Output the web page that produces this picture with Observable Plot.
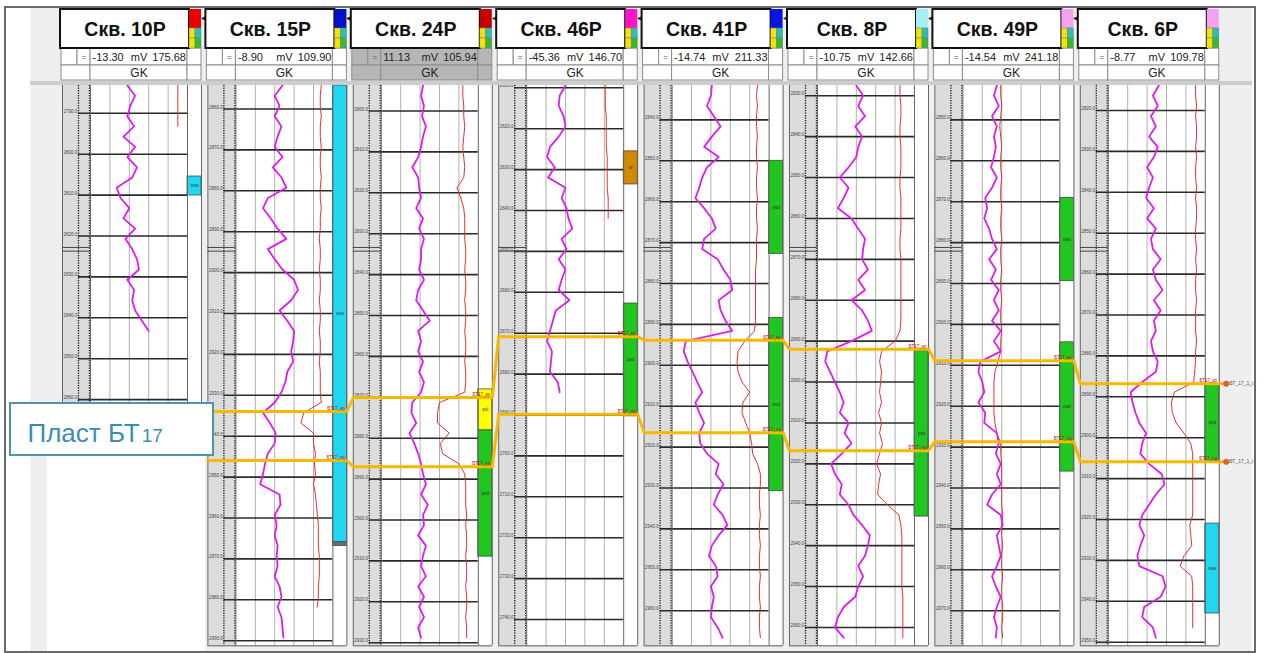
<!DOCTYPE html>
<html><head><meta charset="utf-8">
<script src="https://cdn.jsdelivr.net/npm/d3@7"></script>
<script src="https://cdn.jsdelivr.net/npm/@observablehq/plot@0.6"></script>
<style>
html,body{margin:0;padding:0;background:#fff;}
#chart{width:1264px;height:653px;overflow:hidden;}
</style></head><body><div id="chart"></div>
<script>
// ================= DATA =================
const wells = ["Скв. 10Р","Скв. 15Р","Скв. 24Р","Скв. 46Р","Скв. 41Р","Скв. 8Р","Скв. 49Р","Скв. 6Р"];
const gkMin = ["-13.30","-8.90","11.13","-45.36","-14.74","-10.75","-14.54","-8.77"];
const gkMax = ["175.68","109.90","105.94","146.70","211.33","142.66","241.18","109.78"];
const gkUnit = "mV";
const curveName = "GK";
const tagColors = ["#e80000","#0010c8","#c40000","#ff14c8","#0a14e6","#a6eef0","#f2a2f0","#f2a2f0"];
const tagIcon = ["#f4e400","#26c2b6","#f4e400","#36b836"];
// display depth (m below panel top) of first depth mark, and its label
const firstGrid = [6.8,5.75,6.24,0.56,8.41,2.51,8.41,6.11];
const firstGridMD = [2790,2860,2800,2610,2840,2830,2850,2820];
const logBottom = [77.5,137,137,137,137,137,137,137];
const sampleStep = 2.5; // m between curve samples
// GK curve, % of track width, one value every 2.5 m from panel top
const gk_10P = [38,46,41,38,45,34,46,38,48,43,27,31,40,34,46,36,43,48,50,38,45,43,46,53,60];
const gk_15P = [48,40,45,40,47,43,40,48,38,47,52,33,28,36,43,52,33,40,48,60,64,57,45,53,60,59,57,59,53,51,47,40,28,35,41,40,33,30,28,25,45,46,40,42,40,43,42,43,40,45,47,43,47,48,49];
const gk_24P = [43,41,44,42,46,43,41,38,32,38,39,41,36,43,39,44,41,41,39,44,38,36,43,50,38,41,38,43,39,44,41,32,31,36,29,34,38,41,43,46,41,48,43,44,38,46,43,41,46,38,44,39,44,38,41];
const gk_46P = [40,34,33,38,40,33,24,21,29,22,40,36,41,43,47,36,41,33,40,36,33,44,30,27,24,21,26,25,24,32,34];
const gk_41P = [41,40,36,43,50,41,33,48,36,31,28,24,33,41,45,33,31,47,53,60,62,48,50,55,62,14,12,16,21,26,31,24,28,33,28,29,36,48,45,53,47,43,52,57,48,41,38,45,47,40,43,41,40,47,52];
const gk_8P = [40,47,42,49,39,46,42,40,32,23,32,27,21,35,42,49,47,46,52,42,49,35,46,52,56,35,10,8,13,18,23,27,23,32,28,35,25,14,18,25,23,32,37,46,54,52,49,42,47,42,39,27,21,18,27];
const gk_49P = [35,32,37,30,35,32,34,32,29,35,30,23,25,22,27,30,35,27,34,29,37,32,37,30,39,32,39,18,16,20,22,16,23,22,35,37,34,39,35,39,30,25,39,41,35,37,39,35,30,34,39,35,32,35,34];
const gk_6P = [52,46,51,44,49,42,51,47,40,46,42,39,47,40,49,44,46,54,46,49,56,47,54,47,49,44,46,51,49,35,23,25,28,32,39,35,33,42,55,58,49,42,35,32,37,33,30,32,56,59,54,37,35,46,49];
// second (red) curve, % of track width, same sampling
const ps_10P = [90,90,90,90,90];
const ps_15P = [88,87,87,88,87,87,88,87,87,88,87,87,88,87,87,86,87,87,86,87,87,86,87,87,86,87,87,86,87,87,87,88,70,67,80,80,82,81,82,80,82,83,84,85,85,85,86,86,86,85,85,84];
const ps_24P = [84,84,85,85,86,85,84,85,86,85,78,82,85,86,86,86,87,87,86,87,87,86,87,87,86,87,87,86,87,87,86,60,58,58,70,61,63,80,86,87,87,87,88,87,88,88,87,88,88,87,88,88,87,88,88];
const ps_46P = [81,81,81,82,82,82,82,83,83,83,83,84,84,84];
const ps_41P = [88,87,88,87,87,88,87,87,88,87,87,88,87,87,88,87,87,87,86,86,86,86,86,86,85,75,68,67,68,72,80,73,72,76,80,82,83,88,91,91,90,90,91,90,90,91,90,90,91,90,90,91,90,90,91];
const ps_8P = [85,85,86,86,85,85,86,86,86,85,85,86,86,86,86,85,85,86,86,86,86,86,86,86,85,80,66,64,66,65,64,66,63,66,64,67,64,61,65,63,62,72,84,86,87,87,87,87,87,87,88,88,88,88,88];
const ps_49P = [39,39,40,39,38,39,40,39,39,40,39,39,40,39,39,40,39,39,40,39,39,40,39,39,40,39,39,36,33,32,32,32,32,33,35,39,39,40,40,40,40,40,41,40,40,41,40,40,41,40,40,41,41,40,41];
const ps_6P = [90,90,91,90,91,91,90,91,90,90,91,90,91,91,90,90,91,90,91,90,90,91,90,90,90,91,90,90,89,88,68,65,66,70,78,85,87,87,87,87,87,87,87,84,85,86,78,74,86,87,87,87,87,87];
// lithology intervals (display depth, m)
const lithWell = [0,1,1,2,2,3,3,4,4,5,6,6,7,7];
const lithTop  = [22.25,0,111.7,74.3,84.35,16.1,53.3,18.4,56.8,64.8,27.5,62.8,72.9,107.1];
const lithBase = [26.9,111.7,112.6,84.35,115.2,24.2,80.9,41.2,99.2,105.4,47.85,94.4,91.9,129.1];
const lithCode = ["ssw","ssw","","psl","psd","al","psd","psd","psd","psd","psd","psd","psd","ssw"];
const lithColors = {ssw:"#1fd8f0", psl:"#ffff00", psd:"#1ec81e", al:"#d08a00", "":"#6e6e6e"};
// Пласт БТ17 correlation (display depth, m)
const bt17Top  = [null,79.7,76.3,61.4,62.3,64.5,67.3,72.9];
const bt17Base = [null,91.7,93.2,80.4,84.9,89.3,87.1,92.0];
const layerName = "Пласт БТ";
const layerIndex = "17";
const markerTop = "БТ17_кр", markerBase = "БТ17_пд", endLabel = "БТ_17_1_t";

// ================= LAYOUT =================
const W = 1264, H = 653;
const SLOT = 145.4, X0 = 62, PXM = 4.09, Y0 = 85;
const ux = px => (px - X0) / SLOT;          // pixel column -> slot units (layout)
const off = (i, o) => i + o / SLOT;         // offset o (px) inside well slot i
const py = px => (px - Y0) / PXM;           // pixel row -> display depth (layout)
const GK0 = 28, GKW = 97;
const FONT = "'Liberation Sans',Arial,sans-serif";
const idx = d3.range(wells.length);

const gkSeries = [gk_10P,gk_15P,gk_24P,gk_46P,gk_41P,gk_8P,gk_49P,gk_6P];
const psSeries = [ps_10P,ps_15P,ps_24P,ps_46P,ps_41P,ps_8P,ps_49P,ps_6P];
const pts = series => series.flatMap((arr, i) => arr.map((v, k) => ({well: wells[i], x: off(i, GK0 + v / 100 * GKW), y: k * sampleStep})));
const gkPts = pts(gkSeries), psPts = pts(psSeries);

const gridData = [];
idx.forEach(i => { for (let d = firstGrid[i], n = 0; d < logBottom[i]; d += 10, n++) gridData.push({i, d, md: firstGridMD[i] + 10 * n}); });
const vgrid = idx.flatMap(i => [1,2,3,4].map(k => ({i, o: GK0 + GKW / 5 * k})));
const borders = idx.flatMap(i => [0, 28, 125, 139].map(o => ({i, o})));
const dotted = idx.flatMap(i => [16, 27].map(o => ({i, o})));
const lith = lithWell.map((i, j) => ({i, t: lithTop[j], b: lithBase[j], code: lithCode[j]}));

function horizon(arr, name) {
  const out = [];
  arr.forEach((d, i) => { if (d == null) return;
    out.push({x: off(i, 0), y: d, name});
    out.push({x: off(i, i === arr.length - 1 ? 146 : 139), y: d, name}); });
  return out;
}
const corr = [...horizon(bt17Top, "top"), ...horizon(bt17Base, "base")];
const corrMarks = [...bt17Top.map((d, i) => ({i, d, t: markerTop})), ...bt17Base.map((d, i) => ({i, d, t: markerBase}))].filter(o => o.d != null);
const last = wells.length - 1;
const ends = [bt17Top[last], bt17Base[last]];

const cells = idx.flatMap(i => [
  {i, o1: -1, o2: 15, y1: 48, y2: 65}, {i, o1: 15, o2: 28, y1: 48, y2: 65}, {i, o1: 28, o2: 125, y1: 48, y2: 65}, {i, o1: 125, o2: 139, y1: 48, y2: 65},
  {i, o1: -1, o2: 28, y1: 65, y2: 80}, {i, o1: 28, o2: 125, y1: 65, y2: 80}, {i, o1: 125, o2: 139, y1: 65, y2: 80}]);
const icons = idx.flatMap(i => [0,1,2,3].map(q => ({i, q})));

const ctx = document.createElement("canvas").getContext("2d");
ctx.font = `26px ${FONT}`;
const wMain = ctx.measureText(layerName).width;

const marks = [
  // backgrounds
  Plot.rect([0], {x1: ux(30), x2: ux(1252), y1: py(8), y2: py(651), fill: "#efefef"}),
  Plot.rect([0], {x1: ux(47), x2: ux(205), y1: py(403), y2: py(651), fill: "#ffffff"}),
  Plot.rect(idx, {x1: i => off(i, 0), x2: i => off(i, 139), y1: 0, y2: i => logBottom[i], fill: "#ffffff"}),
  Plot.rect(idx, {x1: i => off(i, 0), x2: i => off(i, 27.5), y1: 0, y2: i => logBottom[i], fill: "#dcdcdc"}),
  // lithology
  Plot.rect(lith, {x1: d => off(d.i, 125), x2: d => off(d.i, 139), y1: "t", y2: "b", fill: d => lithColors[d.code], stroke: "#3a3a3a", strokeWidth: 0.7}),
  Plot.text(lith.filter(d => d.code), {x: d => off(d.i, 132), y: d => (d.t + d.b) / 2, text: "code", fontSize: 4.5, fill: "#333"}),
  // track grid
  Plot.ruleX(vgrid, {x: d => off(d.i, d.o), y1: 0, y2: d => logBottom[d.i], stroke: "#b0b0b0", strokeWidth: 1}),
  Plot.ruleY(gridData, {y: "d", x1: d => off(d.i, 16), x2: d => off(d.i, 125), stroke: "#2a2a2a", strokeWidth: 1.6}),
  Plot.ruleX(dotted, {x: d => off(d.i, d.o), y1: 0, y2: d => logBottom[d.i], stroke: "#111", strokeWidth: 1.3, strokeDasharray: "1.2,1.3"}),
  Plot.ruleX(borders, {x: d => off(d.i, d.o), y1: 0, y2: d => logBottom[d.i], stroke: "#666", strokeWidth: 1}),
  Plot.ruleY(idx.flatMap(i => [39.6, 40.5].map(d => ({i, d}))), {y: "d", x1: d => off(d.i, 0), x2: d => off(d.i, 27.5), stroke: "#444", strokeWidth: 1}),
  Plot.ruleY(idx, {y: i => logBottom[i], x1: i => off(i, 0), x2: i => off(i, 139), stroke: "#555", strokeWidth: 1}),
  Plot.text(gridData, {x: d => off(d.i, 1), y: "d", text: d => `${d.md}.0`, textAnchor: "start", lineAnchor: "bottom", fontSize: 4.5, fill: "#444", dy: -0.5}),
  // curves
  Plot.line(psPts, {x: "x", y: "y", z: "well", stroke: "#e53030", strokeWidth: 1}),
  Plot.line(gkPts, {x: "x", y: "y", z: "well", stroke: "#dc1cf0", strokeWidth: 1.8}),
  // correlation
  Plot.line(corr, {x: "x", y: "y", z: "name", stroke: "#f6b800", strokeWidth: 3}),
  Plot.text(corrMarks, {x: d => off(d.i, 128), y: "d", text: "t", fontSize: 4.5, fill: "#cc0000", lineAnchor: "bottom", dy: -1.5}),
  Plot.dot(ends, {x: off(last, 146), y: d => d, r: 2.6, fill: "#e8602c", stroke: "#c04010", strokeWidth: 0.6}),
  Plot.text(ends, {x: off(last, 149), y: d => d, text: () => endLabel, fontSize: 5, fill: "#555", textAnchor: "start"}),
  // header
  Plot.ruleY([py(82.5)], {x1: ux(30), x2: ux(1252), stroke: "#cdcdcd", strokeWidth: 4}),
  Plot.rect(cells, {x1: d => off(d.i, d.o1), x2: d => off(d.i, d.o2), y1: d => py(d.y1), y2: d => py(d.y2), fill: d => d.i === 2 ? "#b6b6b6" : "#ffffff", stroke: "#8c8c8c", strokeWidth: 1}),
  Plot.text(idx, {x: i => off(i, 21.5), y: py(56.5), text: () => "=", fontSize: 8, fill: "#555"}),
  Plot.text(idx, {x: i => off(i, 30), y: py(56.5), text: i => gkMin[i], textAnchor: "start", fontSize: 11, fill: "#222"}),
  Plot.text(idx, {x: i => off(i, 76.5), y: py(56.5), text: () => gkUnit, fontSize: 11, fill: "#222"}),
  Plot.text(idx, {x: i => off(i, 123.5), y: py(56.5), text: i => gkMax[i], textAnchor: "end", fontSize: 11, fill: "#222"}),
  Plot.text(idx, {x: i => off(i, 76.5), y: py(73), text: () => curveName, fontSize: 12, fill: "#222"}),
  Plot.rect(idx, {x1: i => off(i, -2), x2: i => off(i, 127), y1: py(9), y2: py(48), fill: "#ffffff", stroke: "#111", strokeWidth: 2}),
  Plot.rect(idx, {x1: i => off(i, 127), x2: i => off(i, 139), y1: py(9), y2: py(28), fill: i => tagColors[i]}),
  Plot.rect(icons, {x1: d => off(d.i, 127 + (d.q % 2) * 6), x2: d => off(d.i, 133 + (d.q % 2) * 6), y1: d => py(28 + Math.floor(d.q / 2) * 10), y2: d => py(38 + Math.floor(d.q / 2) * 10), fill: d => tagIcon[d.q], stroke: "#777", strokeWidth: 0.5}),
  Plot.text(idx.slice(0, -1), {x: i => off(i, 141), y: py(18), text: () => "◀", fontSize: 6, fill: "#111"}),
  Plot.text(idx, {x: i => off(i, 62.5), y: py(29.5), text: i => wells[i], fontSize: 19.5, fontWeight: "bold", fill: "#111"}),
  // layer label
  Plot.rect([0], {x1: ux(10), x2: ux(213), y1: py(403), y2: py(455), fill: "#ffffff", stroke: "#4f93b3", strokeWidth: 2}),
  Plot.text([layerName], {x: ux(27), y: py(441), text: d => d, textAnchor: "start", lineAnchor: "bottom", fontSize: 26, fill: "#3c8db2"}),
  Plot.text([layerIndex], {x: ux(27 + wMain + 2), y: py(441), text: d => d, textAnchor: "start", lineAnchor: "bottom", fontSize: 19, fill: "#3c8db2"}),
  // frame
  Plot.rect([0], {x1: ux(5), x2: ux(1255), y1: py(7), y2: py(652), fill: "none", stroke: "#6a6a6a", strokeWidth: 2})
];

const chart = Plot.plot({
  width: W, height: H, margin: 0,
  x: {domain: [ux(0), ux(W)], range: [0, W], axis: null},
  y: {domain: [py(0), py(H)], range: [0, H], axis: null},
  color: {type: "identity"},
  style: {background: "#ffffff", fontFamily: FONT, overflow: "hidden"},
  marks
});
document.getElementById("chart").append(chart);
</script>
</body></html>
